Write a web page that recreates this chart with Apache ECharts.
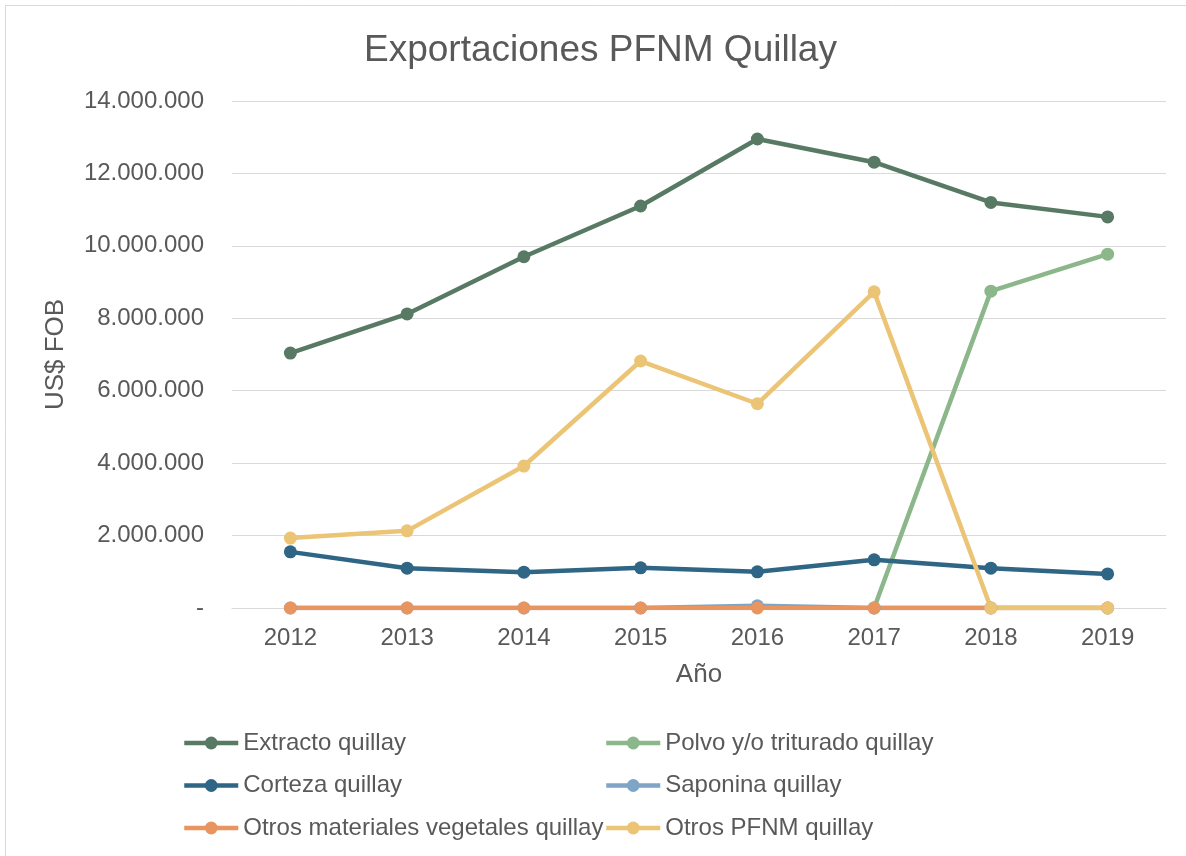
<!DOCTYPE html>
<html>
<head>
<meta charset="utf-8">
<script src="https://cdn.jsdelivr.net/npm/echarts@6/dist/echarts.min.js"></script>
<style>
  html, body { margin: 0; padding: 0; background: #fff; }
  #chart { width: 1186px; height: 856px; }
</style>
</head>
<body>
<div id="chart"></div>
<script>
const years = ['2012', '2013', '2014', '2015', '2016', '2017', '2018', '2019'];

const extracto = [7040000, 8120000, 9700000, 11100000, 12950000, 12310000, 11200000, 10800000];
const polvo = [null, null, null, null, null, 0, 8750000, 9770000];
const corteza = [1550000, 1100000, 990000, 1110000, 1000000, 1330000, 1100000, 940000];
const saponina = [0, 0, 0, 0, 60000, 0, 0, 0];
const otrosMateriales = [0, 0, 0, 0, 0, 0, 0, 0];
const otrosPfnm = [1930000, 2130000, 3920000, 6820000, 5640000, 8730000, 0, 0];

const seriesNames = [
  'Extracto quillay', 'Polvo y/o triturado quillay', 'Corteza quillay',
  'Saponina quillay', 'Otros materiales vegetales quillay', 'Otros PFNM quillay'
];
const seriesData = [extracto, polvo, corteza, saponina, otrosMateriales, otrosPfnm];
const colors = ['#587a64', '#8bb78a', '#2f6585', '#7ea5c6', '#e8955f', '#ecc476'];

const font = 'Liberation Sans, Arial, sans-serif';
const txt = '#595959';

function fmt(v) {
  if (v === 0) return '-';
  return String(v).replace(/\B(?=(\d{3})+(?!\d))/g, '.');
}

let myChart = echarts.init(document.getElementById('chart'));

let legendBase = {
  orient: 'vertical',
  top: 726,
  itemWidth: 54,
  itemHeight: 16,
  itemGap: 18.5,
  lineStyle: { width: 4.5 },
  textStyle: { fontFamily: font, fontSize: 24, color: txt }
};

let option = {
  backgroundColor: '#fff',
  color: colors,
  animation: false,
  title: {
    text: 'Exportaciones PFNM Quillay',
    left: 359,
    top: 27,
    textStyle: { fontFamily: font, fontSize: 37, fontWeight: 'normal', color: txt }
  },
  legend: [
    Object.assign({}, legendBase, { left: 177, data: [seriesNames[0], seriesNames[2], seriesNames[4]] }),
    Object.assign({}, legendBase, { left: 599, data: [seriesNames[1], seriesNames[3], seriesNames[5]] })
  ],
  grid: { left: 232, right: 20, top: 101, bottom: 248 },
  xAxis: {
    type: 'category',
    data: years,
    boundaryGap: true,
    name: 'Año',
    nameLocation: 'middle',
    nameGap: 54,
    nameTextStyle: { fontFamily: font, fontSize: 26, color: txt },
    axisLine: { lineStyle: { color: '#d9d9d9' } },
    axisTick: { show: false },
    axisLabel: { fontFamily: font, fontSize: 24, color: txt, margin: 18 }
  },
  yAxis: {
    type: 'value',
    min: 0,
    max: 14000000,
    interval: 2000000,
    name: 'US$ FOB',
    nameLocation: 'middle',
    nameGap: 163,
    nameTextStyle: { fontFamily: font, fontSize: 26, color: txt },
    axisLine: { show: false },
    axisTick: { show: false },
    splitLine: { lineStyle: { color: '#d9d9d9', width: 1 } },
    axisLabel: { fontFamily: font, fontSize: 24, color: txt, margin: 28, formatter: fmt }
  },
  graphic: [{
    type: 'rect',
    shape: { x: 5.5, y: 5.5, width: 1400, height: 1000 },
    style: { fill: 'none', stroke: '#d9d9d9', lineWidth: 1 },
    silent: true
  }],
  series: seriesNames.map((name, i) => ({
    name: name,
    type: 'line',
    data: seriesData[i],
    symbol: 'circle',
    symbolSize: 13,
    lineStyle: { width: 4.5, color: colors[i] },
    itemStyle: { color: colors[i] },
    connectNulls: false
  }))
};

myChart.setOption(option);
</script>
</body>
</html>
